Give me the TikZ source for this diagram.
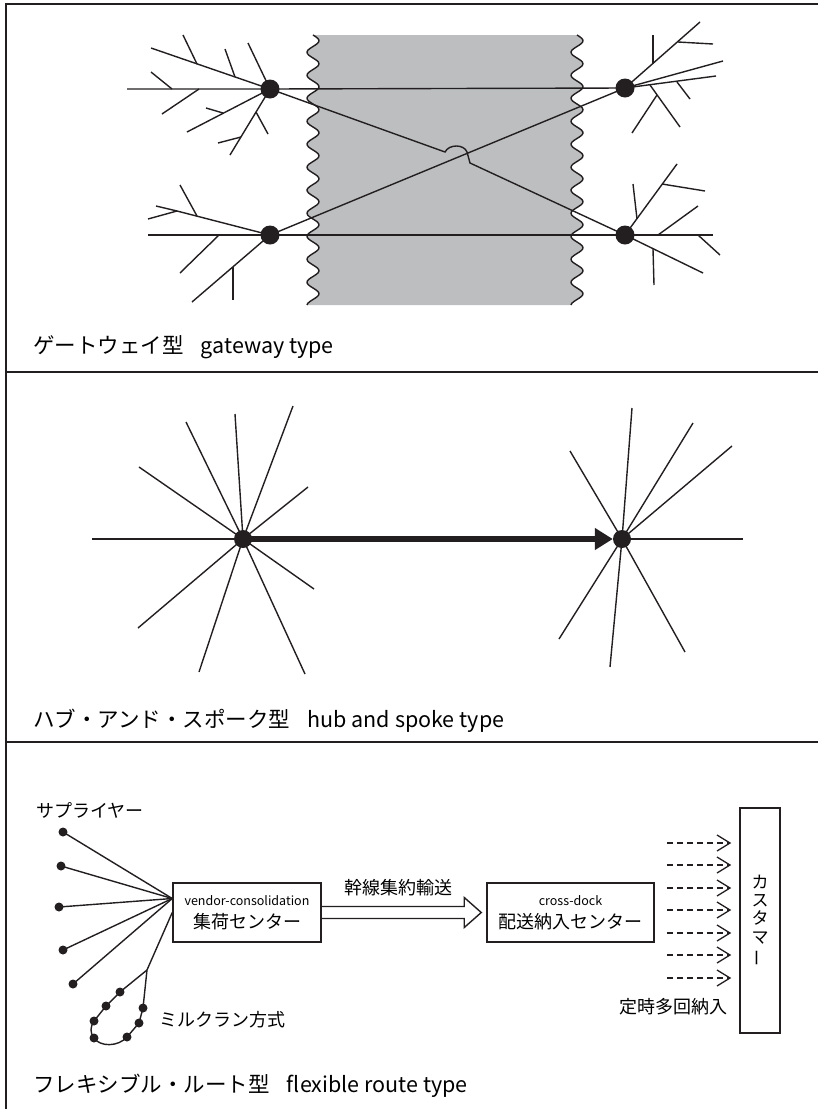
\documentclass[tikz,border=0pt]{standalone}
\usepackage{fontspec}
\setmainfont{Noto Sans CJK JP}
\usepackage{graphicx}
\usetikzlibrary{arrows.meta,calc}
\definecolor{ink}{RGB}{35,31,32}
\definecolor{sea}{RGB}{189,190,192}
\begin{document}
\begin{tikzpicture}[x=1pt,y=-1pt,
  ln/.style={line width=1.4pt, draw=ink},
  framel/.style={line width=2pt, draw=ink},
  bigdot/.style={circle, fill=ink, inner sep=0pt, minimum size=19pt},
  hubdot/.style={circle, fill=ink, inner sep=0pt, minimum size=18pt},
  smalldot/.style={circle, fill=ink, inner sep=0pt, minimum size=9pt},
  ptitle/.style={anchor=west, inner sep=0pt, font=\fontsize{21.5}{24}\selectfont},
  jp/.style={inner sep=0pt, font=\fontsize{18}{20}\selectfont},
  boxnode/.style={draw=ink, line width=1.5pt, minimum height=59pt, align=center, inner sep=0pt, font=\fontsize{18}{22}\selectfont},
  dasharr/.style={line width=1.3pt, draw=ink, dash pattern=on 6pt off 4pt, -{Straight Barb[length=13pt,width=16pt,line width=1.3pt]}},
]
\useasboundingbox (0,0) rectangle (818,1109);
% ---------- frame ----------
\draw[framel] (818,4) -- (6,4) -- (6,1109);
\draw[framel] (6,372) -- (818,372);
\draw[framel] (6,742) -- (818,742);

% ---------- gateway type ----------
\fill[sea] plot[domain=35:305,samples=160] ({313+6*sin((\x-35)/23*360)},{\x})
  -- plot[domain=305:35,samples=160] ({577+6*sin((\x-35)/23*360)},{\x}) -- cycle;
\draw[ln] plot[domain=35:305,samples=160,smooth] ({313+6*sin((\x-35)/23*360)},{\x});
\draw[ln] plot[domain=35:305,samples=160,smooth] ({577+6*sin((\x-35)/23*360)},{\x});

\node[bigdot] (tl) at (270,89) {};
\node[bigdot] (bl) at (270,235) {};
\node[bigdot] (tr) at (625,88) {};
\node[bigdot] (br) at (625,235) {};

\draw[ln] (127,89) -- (tl.center) -- (tr.center);
\draw[ln] (148,235) -- (bl.center) -- (br.center) -- (713,235);
\draw[ln] (bl.center) -- (tr.center);
\draw[ln] (tl.center) -- (445,152) .. controls (449,144) and (464,144) .. (467,152) -- (470,163) -- (br.center);

% tree TL
\draw[ln] (tl.center) -- (151,48);
\draw[ln] (197,64) -- (183,35);
\draw[ln] (235,77) -- (225,49);
\draw[ln] (tl.center) -- (248,43);
\draw[ln] (172,89) -- (151,72);
\draw[ln] (199,89) -- (162,114);
\draw[ln] (tl.center) -- (187,132);
\draw[ln] (223,113) -- (206,108);
\draw[ln] (tl.center) -- (230,155);
\draw[ln] (256,112) -- (268,134);
\draw[ln] (241,137) -- (218,143);
% tree BL
\draw[ln] (bl.center) -- (177,211) -- (156,206);
\draw[ln] (177,211) -- (148,219);
\draw[ln] (197,216) -- (180,185);
\draw[ln] (219,235) -- (180,273);
\draw[ln] (bl.center) -- (192,302);
\draw[ln] (233,267) -- (233,300);
% tree TR
\draw[ln] (tr.center) -- (700,22);
\draw[ln] (653,64) -- (653,35);
\draw[ln] (678,42) -- (713,44);
\draw[ln] (tr.center) -- (723,61);
\draw[ln] (tr.center) -- (716,76);
\draw[ln] (677,82) -- (690,99);
\draw[ln] (650,85) -- (680,127);
\draw[ln] (657,95) -- (632,133);
% tree BR
\draw[ln] (br.center) -- (677,164);
\draw[ln] (662,184) -- (705,191);
\draw[ln] (637,219) -- (633,184);
\draw[ln] (658,235) -- (698,206);
\draw[ln] (698,235) -- (720,255);
\draw[ln] (br.center) -- (703,273);
\draw[ln] (653,249) -- (654,285);

\node[ptitle] (t1) at (33,347) {ゲートウェイ型\hspace{0.8em}gateway type};

% ---------- hub and spoke ----------
\node[hubdot] (h1) at (243,539) {};
\node[hubdot] (h2) at (622,539) {};
\foreach \a/\b in {92/539,139/467,186/422,235/414,293/406,308/487,314/589,305/674,199/672,138/628}
  \draw[ln] (h1.center) -- (\a,\b);
\foreach \a/\b in {570/451,632/408,693/423,732/446,743/539,685/652,610/667,559/639}
  \draw[ln] (h2.center) -- (\a,\b);
\draw[line width=5.5pt, draw=ink, -{Triangle[length=18pt,width=21pt]}] (h1.center) -- (h2.west);

\node[ptitle] (t2) at (33,721) {ハブ・アンド・スポーク型\hspace{0.8em}hub and spoke type};

% ---------- flexible route ----------
\node[jp] (sup) at (90,810) {サプライヤー};
\node[boxnode, minimum width=148pt] (v) at (247,912.5) {{\fontsize{12.5}{14}\selectfont vendor-consolidation}\\[1pt]集荷センター};
\node[boxnode, minimum width=167pt] (c) at (570.5,912.5) {{\fontsize{12.5}{14}\selectfont cross-dock}\\[1pt]配送納入センター};
\node[draw=ink, line width=1.5pt, minimum width=40pt, minimum height=225pt, inner sep=0pt, align=center,
      font=\fontsize{17}{18.3}\selectfont] (cust) at (760,920.5) {カ\\ス\\タ\\マ\\\rotatebox[origin=c]{90}{ー}};

\node[smalldot] (s1) at (63,832) {};
\node[smalldot] (s2) at (61,866) {};
\node[smalldot] (s3) at (59,907) {};
\node[smalldot] (s4) at (63,950) {};
\node[smalldot] (s5) at (73,984) {};
\coordinate (conv) at ($(v.west)+(0,-14)$);
\foreach \s in {s1,s2,s3,s4,s5} \draw[ln] (\s.center) -- (conv);

\coordinate (j) at (147,970);
\node[smalldot] (m1) at (120,992) {};
\node[smalldot] (m2) at (106,1006) {};
\node[smalldot] (m3) at (94,1021) {};
\node[smalldot] (m4) at (94,1038) {};
\node[smalldot] (m5) at (127,1037) {};
\node[smalldot] (m6) at (139,1023) {};
\node[smalldot] (m7) at (143,1008) {};
\draw[ln] (v.west) -- (j);
\draw[ln] (j) -- (m1.center) -- (m2.center) -- (m3.center) .. controls (90,1027) and (90,1033) .. (m4.center)
  .. controls (100,1047) and (118,1047) .. (m5.center) -- (m6.center) -- (m7.center) -- (j);
\node[jp] (mr) at (222,1020) {ミルクラン方式};

% hollow trunk arrow
\draw[ln, line join=miter] ($(v.east)+(0,-6)$) -- ($(c.west)+(-22,-6)$) -- ($(c.west)+(-22,-15)$) -- ($(c.west)+(-5,0)$)
  -- ($(c.west)+(-22,15)$) -- ($(c.west)+(-22,6)$) -- ($(v.east)+(0,6)$);
\node[jp] (trunk) at (398,888) {幹線集約輸送};

% dashed deliveries
\foreach \yy in {843,865,888,910,933,955,978}
  \draw[dasharr] ($(cust.west |- 0,\yy)+(-72,0)$) -- ($(cust.west |- 0,\yy)+(-8,0)$);
\node[jp] (freq) at (673,1007) {定時多回納入};

\node[ptitle] (t3) at (33,1086) {フレキシブル・ルート型\hspace{0.8em}flexible route type};
\end{tikzpicture}
\end{document}
